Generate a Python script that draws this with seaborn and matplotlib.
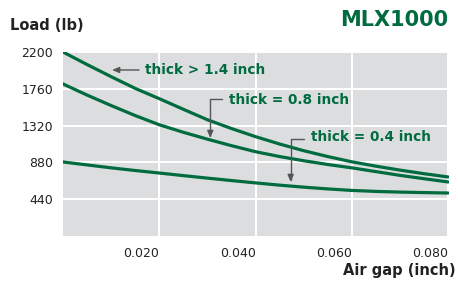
import matplotlib
matplotlib.use("Agg")
import matplotlib.pyplot as plt
import matplotlib.transforms as mtransforms
import seaborn as sns
import pandas as pd

# ---- data ----
air_gap = [0.000, 0.005, 0.010, 0.015, 0.020, 0.025, 0.030, 0.035, 0.040,
           0.045, 0.050, 0.055, 0.060, 0.065, 0.070, 0.075, 0.080]
load_thick_14 = [2200, 2050, 1905, 1765, 1642, 1515, 1390, 1285, 1188,
                 1100, 1020, 950, 887, 835, 788, 745, 706]
load_thick_08 = [1818, 1685, 1560, 1440, 1330, 1240, 1158, 1080, 1008,
                 950, 900, 855, 815, 770, 725, 685, 646]
load_thick_04 = [885, 850, 815, 783, 753, 722, 692, 663, 635,
                 608, 584, 563, 545, 533, 525, 519, 514]
series_names = ["thick > 1.4 inch", "thick = 0.8 inch", "thick = 0.4 inch"]
x_ticks = [0.020, 0.040, 0.060, 0.080]
x_tick_labels = ["0.020", "0.040", "0.060", "0.080"]
y_ticks = [440, 880, 1320, 1760, 2200]
y_tick_labels = ["440", "880", "1320", "1760", "2200"]
title = "MLX1000"
y_label = "Load (lb)"
x_label = "Air gap (inch)"

GREEN = "#006b3f"
BG = "#dcdddf"
TXT = "#222222"
ARROW = "#555555"

rows = []
for name, vals in zip(series_names, [load_thick_14, load_thick_08, load_thick_04]):
    for x, y in zip(air_gap, vals):
        rows.append({"gap": x, "load": y, "series": name})
df = pd.DataFrame(rows)

sns.set_theme(style="white")
plt.rcParams["font.family"] = ["DejaVu Sans"]

fig = plt.figure(figsize=(4.58, 2.87), dpi=100)
ax = fig.add_axes([63 / 458, 1 - 236 / 287, (449 - 63) / 458, (236 - 52) / 287])
ax.set_facecolor(BG)

sns.lineplot(data=df, x="gap", y="load", hue="series",
             palette=[GREEN] * 3, linewidth=2.3, legend=False, ax=ax,
             zorder=3)

ax.set_xlim(0, 0.0802)
ax.set_ylim(0, 2200)
ax.set_xticks(x_ticks)
ax.set_yticks(y_ticks)
ax.set_yticklabels(y_tick_labels, fontsize=9, color=TXT)
ax.set_xticklabels(x_tick_labels, fontsize=9, color=TXT, ha="right")
offset = mtransforms.ScaledTranslation(4 / 100, 0, fig.dpi_scale_trans)
for lab in ax.get_xticklabels():
    lab.set_transform(lab.get_transform() + offset)
ax.tick_params(axis="y", length=0, pad=7)
ax.tick_params(axis="x", length=0, pad=8)
ax.grid(True, color="white", linewidth=1.4)
ax.set_axisbelow(True)
for s in ax.spines.values():
    s.set_visible(False)
ax.set_xlabel("")
ax.set_ylabel("")

fig.text(10 / 458, 1 - 25 / 287, y_label, fontsize=10.5, fontweight="bold",
         color=TXT, ha="left", va="center")
fig.text(448 / 458, 1 - 20 / 287, title, fontsize=15, fontweight="bold",
         color=GREEN, ha="right", va="center")
fig.text(456 / 458, 1 - 271 / 287, x_label, fontsize=10.5, fontweight="bold",
         color=TXT, ha="right", va="center")

# annotations
arrow_kw = dict(arrowstyle="-|>,head_length=0.35,head_width=0.15", color=ARROW,
                lw=1.0, shrinkA=0, shrinkB=0)
ax.annotate("", xy=(0.0102, 1985), xytext=(0.0158, 1985), arrowprops=arrow_kw)
ax.text(0.0171, 1985, series_names[0], color=GREEN, fontsize=9.8,
        fontweight="bold", ha="left", va="center")

ax.annotate("", xy=(0.0306, 1172), xytext=(0.0331, 1640),
            arrowprops=dict(connectionstyle="angle,angleA=180,angleB=90,rad=0", **arrow_kw))
ax.text(0.0344, 1627, series_names[1], color=GREEN, fontsize=9.8,
        fontweight="bold", ha="left", va="center")

ax.annotate("", xy=(0.0473, 646), xytext=(0.0500, 1160),
            arrowprops=dict(connectionstyle="angle,angleA=180,angleB=90,rad=0", **arrow_kw))
ax.text(0.0515, 1184, series_names[2], color=GREEN, fontsize=9.8,
        fontweight="bold", ha="left", va="center")

fig.savefig("out.png", dpi=100, facecolor="white")
